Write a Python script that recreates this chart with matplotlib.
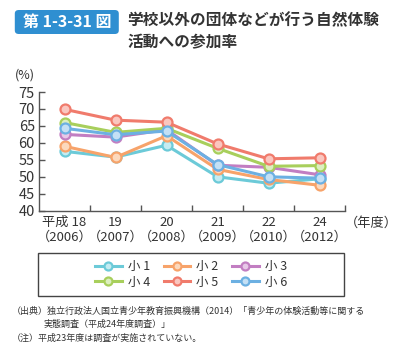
import numpy as np
import matplotlib.pyplot as plt
from matplotlib.patches import FancyBboxPatch, Rectangle

plt.rcParams['font.family'] = ['Noto Sans CJK JP', 'DejaVu Sans']

# 年度
years = ['平成 18\n（2006）', '19\n（2007）', '20\n（2008）', '21\n（2009）', '22\n（2010）', '24\n（2012）']
labels = ['小 1', '小 2', '小 3', '小 4', '小 5', '小 6']

s1 = [57.5, 55.8, 59.3, 50.0, 48.1, 49.4]
s2 = [59.0, 55.7, 62.1, 52.2, 49.2, 47.5]
s3 = [62.5, 61.7, 63.9, 53.4, 52.8, 50.6]
s4 = [66.0, 63.1, 64.3, 58.4, 53.1, 53.3]
s5 = [69.9, 66.7, 66.1, 59.7, 55.3, 55.6]
s6 = [64.3, 62.4, 63.5, 53.6, 50.0, 49.6]
series = [s1, s2, s3, s4, s5, s6]

colors = ['#6ccad8', '#f7a36a', '#c27ec2', '#a8cf5c', '#f07b6c', '#6cb0e2']
light = ['#c4ecf2', '#fcd9bd', '#e8c8e8', '#dcefbf', '#fac6bf', '#c4e0f5']
txt = '#333333'

fig = plt.figure(figsize=(4, 3.55), dpi=100)
ax = fig.add_axes([0.0975, 0.4065, 0.765, 0.3343])

x = np.arange(len(years))
# 上から重なる順
order = [0, 1, 2, 5, 3, 4]
for i in order:
    ax.plot(x, series[i], color=colors[i], lw=2.2, marker='o', ms=7.2,
            mfc=light[i], mec=colors[i], mew=1.6, label=labels[i], zorder=3 + i)

ax.set_xlim(-0.5, 5.5)
ax.set_ylim(40, 75)
ax.set_yticks(range(40, 76, 5))
ax.set_xticks(x)
ax.set_xticklabels(years, fontsize=9.5, color=txt, linespacing=1.15)
ax.set_xticks(np.arange(0.5, 5.6, 1), minor=True)
ax.tick_params(axis='x', which='major', length=0, pad=4)
ax.tick_params(axis='x', which='minor', direction='in', length=4, width=1, color='#555555')
ax.tick_params(axis='y', direction='in', length=4, width=1, color='#555555',
               labelsize=10.5, labelcolor=txt, pad=3)
for sp in ['top', 'right']:
    ax.spines[sp].set_visible(False)
for sp in ['left', 'bottom']:
    ax.spines[sp].set_color('#555555')
    ax.spines[sp].set_linewidth(1)

fig.text(0.038, 0.79, '(%)', fontsize=9, color=txt, ha='left', va='center')
fig.text(0.995, 1 - 223 / 355, '（年度）', fontsize=9.5, color=txt, ha='right', va='center')

# タイトル
badge = FancyBboxPatch((0.037, 1 - 34 / 355), 0.26, 24 / 355,
                       boxstyle='round,pad=0,rounding_size=0.01',
                       transform=fig.transFigure, fc='#2f8fd1', ec='none')
fig.patches.append(badge)
fig.text(0.167, 1 - 22 / 355, '第 1-3-31 図', fontsize=11.5, fontweight='bold',
         color='white', ha='center', va='center')
fig.text(0.318, 1 - 20 / 355, '学校以外の団体などが行う自然体験', fontsize=11.3,
         fontweight='bold', color=txt, ha='left', va='center')
fig.text(0.318, 1 - 42 / 355, '活動への参加率', fontsize=11.3,
         fontweight='bold', color=txt, ha='left', va='center')

# 凡例 (行ごとに並べる)
frame = Rectangle((0.095, 1 - 296 / 355), 0.765, 43 / 355, transform=fig.transFigure,
                  fill=False, ec='#444444', lw=1)
fig.patches.append(frame)
h, l = ax.get_legend_handles_labels()
hd = dict(zip(l, h))
leg_order = [labels[k] for k in [0, 3, 1, 4, 2, 5]]
fig.legend([hd[k] for k in leg_order], leg_order, loc='center',
           bbox_to_anchor=(0.478, 1 - 274.5 / 355), ncol=3, frameon=False,
           fontsize=9, handlelength=2.1, handletextpad=0.5, columnspacing=1.1,
           labelspacing=0.2, labelcolor=txt, markerscale=0.8)

# 出典
fig.text(0.03, 1 - 311 / 355,
         '（出典）独立行政法人国立青少年教育振興機構（2014）「青少年の体験活動等に関する',
         fontsize=6.5, color=txt, ha='left', va='center')
fig.text(0.108, 1 - 324 / 355, '実態調査（平成24年度調査）」',
         fontsize=6.5, color=txt, ha='left', va='center')
fig.text(0.03, 1 - 338 / 355, '（注）平成23年度は調査が実施されていない。',
         fontsize=6.5, color=txt, ha='left', va='center')

fig.savefig('out.png', dpi=100)
